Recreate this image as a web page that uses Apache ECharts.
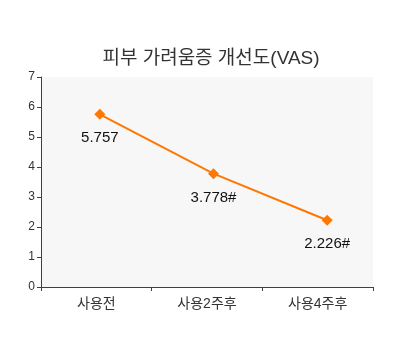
<!DOCTYPE html>
<html>
<head>
<meta charset="utf-8">
<script src="https://cdn.jsdelivr.net/npm/echarts@6/dist/echarts.min.js"></script>
<style>html,body{margin:0;padding:0;background:#fff}#c{width:400px;height:360px}</style>
</head>
<body>
<div id="c"></div>
<script>
const titleText = '피부 가려움증 개선도(VAS)';
const categories = ['사용전', '사용2주후', '사용4주후'];
const values = [5.757, 3.778, 2.226];
const valueLabels = ['5.757', '3.778#', '2.226#'];
const yTicks = [0, 1, 2, 3, 4, 5, 6, 7];

const FONT = '"Liberation Sans", "Noto Sans CJK KR", sans-serif';
const chart = echarts.init(document.getElementById('c'), null, {renderer: 'canvas'});
chart.setOption({
  animation: false,
  backgroundColor: '#fff',
  title: {
    text: titleText, left: 206, textAlign: 'center', top: 44,
    textStyle: {fontFamily: FONT, fontSize: 19, fontWeight: 'normal', color: '#333'}
  },
  grid: [
    {left: 41, right: 27, top: 77, bottom: 73, show: true, backgroundColor: '#f7f7f7', borderWidth: 0},
    {left: 43, right: 16, top: 77, bottom: 73, show: false}
  ],
  xAxis: [
    {type: 'category', gridIndex: 0, data: categories, boundaryGap: true,
     axisLine: {lineStyle: {color: '#404040', width: 1}},
     axisTick: {show: true, length: 4, lineStyle: {color: '#404040'}},
     axisLabel: {fontFamily: FONT, fontSize: 14, color: '#333', margin: 10}},
    {type: 'category', gridIndex: 1, data: categories, boundaryGap: true, show: false}
  ],
  yAxis: [
    {type: 'value', gridIndex: 0, min: yTicks[0], max: yTicks[yTicks.length - 1], interval: 1,
     axisLine: {show: true, lineStyle: {color: '#404040', width: 1}},
     axisTick: {show: true, length: 4, lineStyle: {color: '#404040'}},
     splitLine: {show: false},
     axisLabel: {fontFamily: FONT, fontSize: 12, color: '#333', margin: 6}},
    {type: 'value', gridIndex: 1, min: yTicks[0], max: yTicks[yTicks.length - 1], interval: 1, show: false,
     splitLine: {show: false}}
  ],
  series: [{
    type: 'line', xAxisIndex: 1, yAxisIndex: 1,
    data: values,
    symbol: 'diamond', symbolSize: 11,
    lineStyle: {color: '#ff7700', width: 2},
    itemStyle: {color: '#ff7700'},
    label: {
      show: true, position: 'bottom', distance: 11,
      fontFamily: FONT, fontSize: 15, color: '#111',
      formatter: p => valueLabels[p.dataIndex]
    }
  }]
});
</script>
</body>
</html>
